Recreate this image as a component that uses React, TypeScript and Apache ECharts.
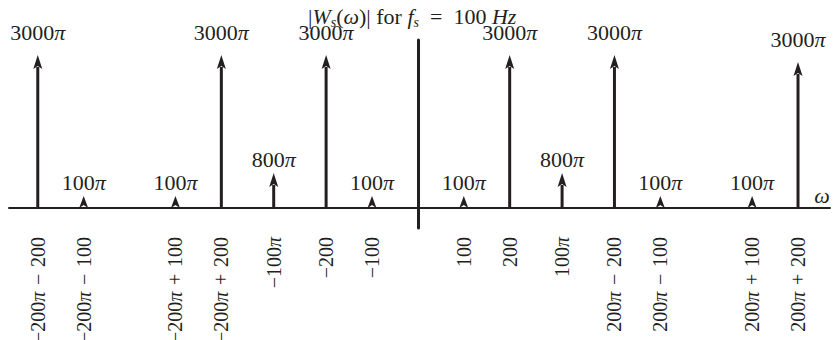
import React, { useEffect, useRef } from "react";
import * as echarts from "echarts";

// impulse positions (ω, rad/s) and how tall each arrow is drawn
const omega = [-828.3, -728.3, -528.3, -428.3, -314.2, -200, -100, 100, 200, 314.2, 428.3, 528.3, 728.3, 828.3];
const drawnHeight = [153, 12, 12, 153, 35, 153, 12, 12, 153, 35, 153, 12, 12, 146];
const amplitudeLabels = [
  "3000π", "100π", "100π", "3000π", "800π", "3000π", "100π",
  "100π", "3000π", "800π", "3000π", "100π", "100π", "3000π",
];
const tickLabels = [
  "−200π − 200", "−200π − 100", "−200π + 100", "−200π + 200", "−100π", "−200", "−100",
  "100", "200", "100π", "200π − 200", "200π − 100", "200π + 100", "200π + 200",
];

const INK = "#231f20";
const FONT = '"Liberation Serif", "DejaVu Serif", serif';

const piRich = (s: string) => s.replace(/π/g, "{i|π}");
const mathSpace = (s: string) => s.replace(/ /g, "\u2004");

export default function App() {
  const ref = useRef<HTMLDivElement>(null);
  useEffect(() => {
    if (!ref.current) return;
    const chart = echarts.init(ref.current, null, { renderer: "svg" });
    const data = omega.map((w, i) => [w, drawnHeight[i], i]);
    chart.setOption({
      animation: false,
      backgroundColor: "#ffffff",
      title: {
        text: "|{i|W}{sub|s}({i|ω})| for {i|f}{sub|s}\u2002=\u2002100 {i|Hz}",
        left: 308,
        top: 3,
        padding: 0,
        textStyle: {
          fontFamily: FONT,
          fontSize: 22,
          fontWeight: "normal",
          color: INK,
          lineHeight: 26,
          rich: {
            i: { fontStyle: "italic", fontFamily: FONT, fontSize: 22, color: INK, lineHeight: 26 },
            sub: { fontStyle: "italic", fontFamily: FONT, fontSize: 14, color: INK, lineHeight: 12, verticalAlign: "bottom" },
          },
        },
      },
      grid: { left: 9, right: 5, top: 40, bottom: 112, containLabel: false, outerBoundsMode: "none" },
      xAxis: {
        type: "value",
        min: -891,
        max: 898,
        splitLine: { show: false },
        axisTick: { show: false },
        axisLine: { show: true, onZero: true, lineStyle: { color: INK, width: 2 } },
        name: "ω",
        nameLocation: "end",
        nameGap: -8,
        nameTextStyle: {
          fontFamily: FONT,
          fontStyle: "italic",
          fontSize: 22,
          color: INK,
          align: "center",
          verticalAlign: "bottom",
          padding: [0, 0, 2, 0],
        },
        axisLabel: {
          show: true,
          customValues: omega,
          rotate: 90,
          margin: 9,
          fontFamily: FONT,
          fontSize: 20,
          color: INK,
          hideOverlap: false,
          formatter: (v: number) => {
            let best = 0;
            omega.forEach((w, i) => {
              if (Math.abs(w - v) < Math.abs(omega[best] - v)) best = i;
            });
            return piRich(mathSpace(tickLabels[best]));
          },
          rich: {
            i: { fontStyle: "italic", fontFamily: FONT, fontSize: 20, color: INK },
          },
        },
      },
      yAxis: {
        type: "value",
        min: -20,
        max: 168,
        splitLine: { show: false },
        axisTick: { show: false },
        axisLabel: { show: false },
        axisLine: { show: true, onZero: true, lineStyle: { color: INK, width: 3 } },
      },
      series: [
        {
          type: "custom",
          clip: false,
          silent: true,
          data,
          encode: { x: 0, y: 1 },
          renderItem: (_params: any, api: any) => {
            const x = api.value(0);
            const h = api.value(1);
            const idx = api.value(2);
            const base = api.coord([x, 0]);
            const tip = api.coord([x, h]);
            const hl = Math.min(14, base[1] - tip[1]);
            const hw = 4.5;
            const children: any[] = [];
            if (base[1] - tip[1] > hl) {
              children.push({
                type: "line",
                shape: { x1: base[0], y1: base[1], x2: tip[0], y2: tip[1] + hl - 2 },
                style: { stroke: INK, lineWidth: 3 },
              });
            }
            children.push({
              type: "polygon",
              shape: {
                points: [
                  [tip[0], tip[1]],
                  [tip[0] + hw, tip[1] + hl],
                  [tip[0], tip[1] + hl - 3],
                  [tip[0] - hw, tip[1] + hl],
                ],
              },
              style: { fill: INK },
            });
            const off = h > 100 ? 23 : 14;
            children.push({
              type: "text",
              style: {
                text: piRich(amplitudeLabels[idx]),
                x: tip[0],
                y: tip[1] - off,
                align: "center",
                verticalAlign: "middle",
                fontFamily: FONT,
                fontSize: 22,
                lineHeight: 14,
                fill: INK,
                rich: {
                  i: { fontStyle: "italic", fontFamily: FONT, fontSize: 22, lineHeight: 14, fill: INK },
                },
              },
            });
            return { type: "group", children };
          },
        },
      ],
    });
    return () => chart.dispose();
  }, []);
  return (
    <div
      ref={ref}
      style={{ position: "fixed", left: 0, top: 0, width: 835, height: 340, background: "#fff" }}
    />
  );
}
